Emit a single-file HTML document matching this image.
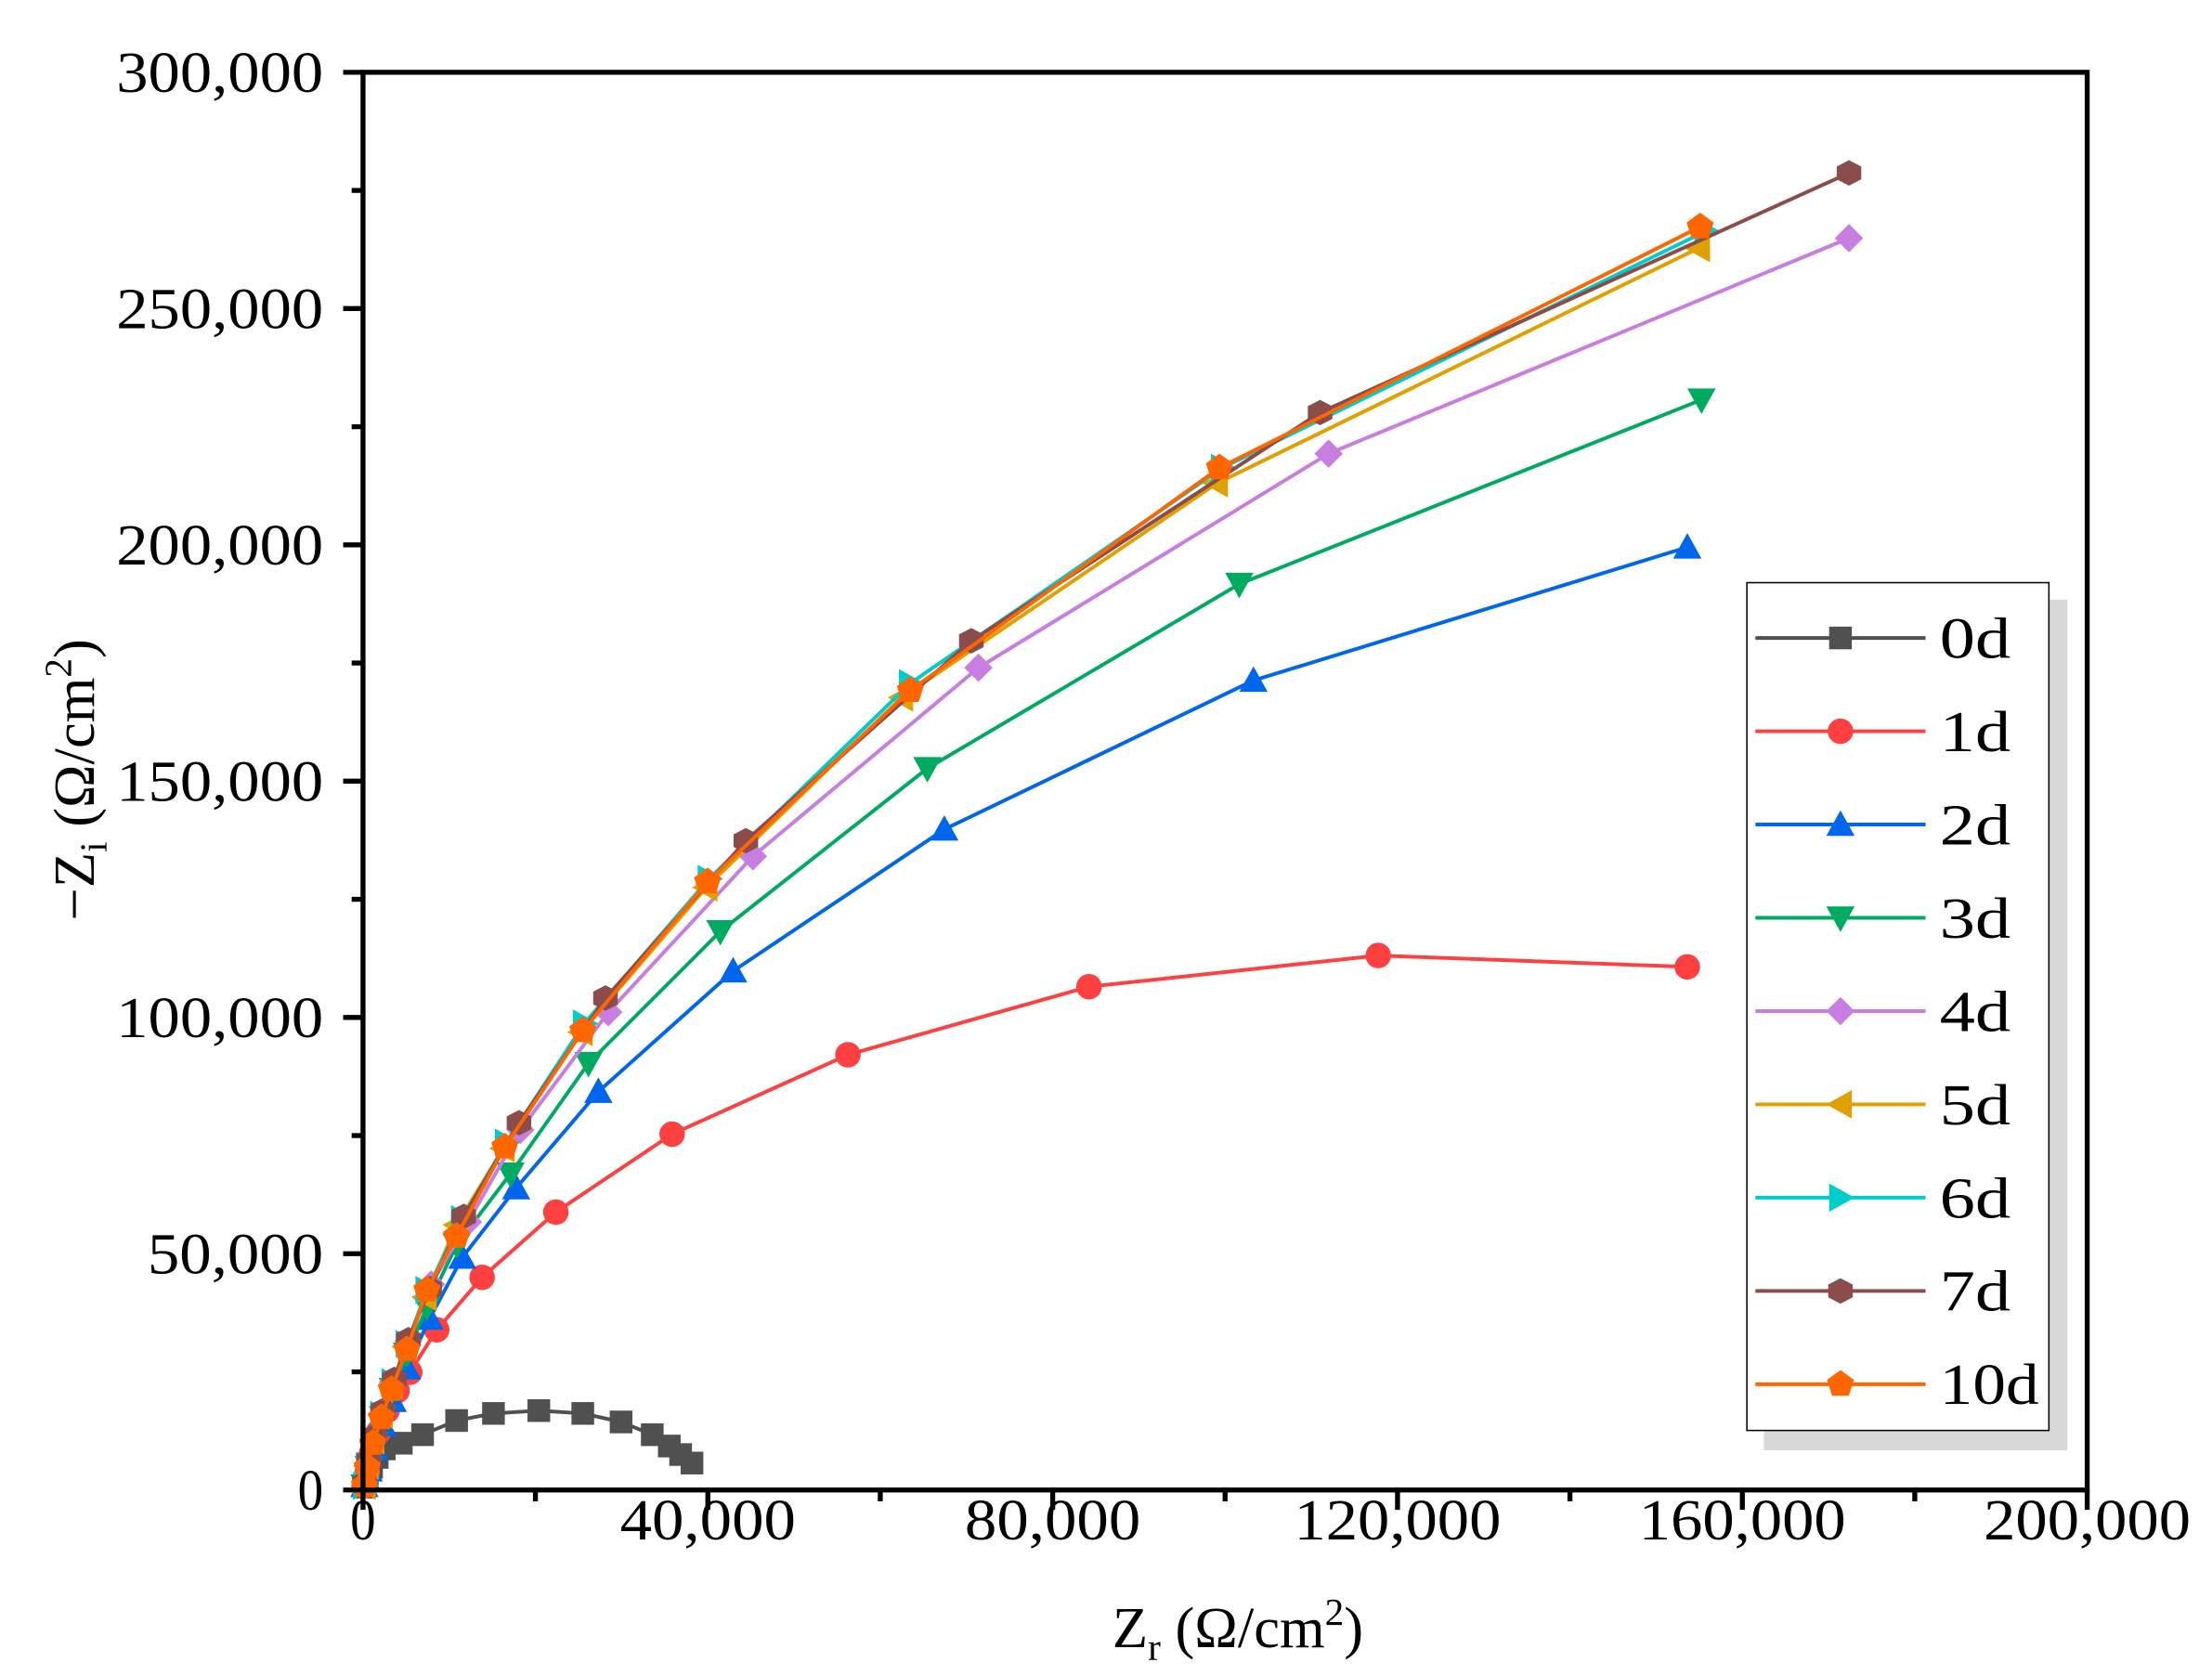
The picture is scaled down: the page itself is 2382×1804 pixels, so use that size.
<!DOCTYPE html>
<html><head><meta charset="utf-8"><style>
html,body{margin:0;padding:0;background:#fff;}
svg{display:block;}
text{font-family:"Liberation Serif",serif;fill:#000;}
</style></head><body>
<svg id="s" width="2382" height="1804" viewBox="0 0 1560 1181.5" xmlns="http://www.w3.org/2000/svg">
<rect width="1560" height="1182" fill="#fff"/>
<g id="plot"></g>
<rect x="256" y="51" width="1216" height="1000" fill="none" stroke="#000" stroke-width="3.5"/>
<g stroke="#000" stroke-width="3.5" id="ticks"></g>
<g font-size="41" text-anchor="end" id="ylab"></g>
<g font-size="41" text-anchor="middle" id="xlab"></g>
<text x="873" y="1162" font-size="41" text-anchor="middle">Z<tspan font-size="27" dy="9">r</tspan><tspan dy="-9"> (Ω/cm</tspan><tspan font-size="27" dy="-16">2</tspan><tspan dy="16">)</tspan></text>
<text transform="translate(66,550) rotate(-90)" font-size="41" text-anchor="middle">−Z<tspan font-size="27" dy="9">i</tspan><tspan dy="-9"> (Ω/cm</tspan><tspan font-size="27" dy="-16">2</tspan><tspan dy="16">)</tspan></text>
<rect x="1244" y="423" width="214" height="600" fill="#d8d8d8"/>
<rect x="1232" y="411" width="213" height="598" fill="#fff" stroke="#000" stroke-width="1"/>
<g id="leg"></g>
</svg>
<script>
const NS="http://www.w3.org/2000/svg";
function el(t,a,p){const e=document.createElementNS(NS,t);for(const k in a)e.setAttribute(k,a[k]);p.appendChild(e);return e;}
const ticks=document.getElementById('ticks'),yl=document.getElementById('ylab'),xl=document.getElementById('xlab');
const ylabels=["0","50,000","100,000","150,000","200,000","250,000","300,000"];
const yw=[18,124,146,146,146,146,146];
for(let i=0;i<=12;i++){const y=1051-i*1000/12;const maj=i%2==0;el('line',{x1:256,x2:maj?242:248,y1:y,y2:y},ticks);
 if(maj){const t=el('text',{x:228,y:y+14,textLength:yw[i/2],lengthAdjust:'spacingAndGlyphs'},yl);t.textContent=ylabels[i/2];}}
const xlabels=["0","40,000","80,000","120,000","160,000","200,000"];
const xw=[18,124,124,146,146,146];
for(let i=0;i<=10;i++){const x=256+i*121.6;const maj=i%2==0;el('line',{x1:x,x2:x,y1:1051,y2:maj?1065:1059},ticks);
 if(maj){const t=el('text',{x:x,y:1086,textLength:xw[i/2],lengthAdjust:'spacingAndGlyphs'},xl);t.textContent=xlabels[i/2];}}
function marker(type,x,y,c,g){const r=9;
 if(type=='sq')el('rect',{x:x-8,y:y-8,width:16,height:16,fill:c},g);
 else if(type=='ci')el('circle',{cx:x,cy:y,r:r,fill:c},g);
 else{let pts;
  if(type=='up')pts=[[0,-10],[10,8],[-10,8]];
  else if(type=='dn')pts=[[0,10],[10,-8],[-10,-8]];
  else if(type=='lt')pts=[[-10,0],[8,-10],[8,10]];
  else if(type=='rt')pts=[[10,0],[-8,-10],[-8,10]];
  else if(type=='di')pts=[[0,-10],[10,0],[0,10],[-10,0]];
  else if(type=='hx'){pts=[];for(let k=0;k<6;k++){const a=Math.PI/6+k*Math.PI/3;pts.push([10*Math.cos(a),9*Math.sin(a)]);}}
  else if(type=='pe'){pts=[];for(let k=0;k<5;k++){const a=-Math.PI/2+k*2*Math.PI/5;pts.push([10*Math.cos(a),10*Math.sin(a)]);}}
  el('polygon',{points:pts.map(p=>(x+p[0])+','+(y+p[1])).join(' '),fill:c},g);}}
const S=[
['0d','#505050','sq',[[257,1049],[259,1042],[262,1035],[266,1028],[271,1022],[283,1018],[298,1012],[322,1002],[348,997],[380,995],[411,997],[438,1003],[460,1012],[472,1020],[480,1026],[488,1032]]],
['1d','#ff4040','ci',[[257,1048],[259,1038],[262,1025],[267,1010],[273,995],[280,981],[289,968],[308,938],[340,901],[392,855],[474,800],[598,744],[768,696],[972,674],[1190,682]]],
['2d','#0066ee','up',[[257,1048],[260,1037],[264,1022],[270,1005],[277,988],[287,965],[303,930],[326,887],[364,838],[422,770],[517,685],[666,585],[884,480],[1190,386]]],
['3d','#00aa60','dn',[[257,1048],[260,1035],[264,1018],[270,1000],[277,980],[287,955],[301,922],[322,878],[360,828],[415,750],[508,657],[654,542],[874,412],[1200,282]]],
['4d','#c87de0','di',[[257,1048],[259,1034],[263,1017],[269,998],[277,975],[288,946],[304,906],[330,862],[367,797],[429,714],[531,604],[690,471],[937,320],[1304,168]]],
['5d','#e0a000','lt',[[257,1048],[259,1034],[263,1016],[269,998],[276,977],[286,950],[300,915],[322,864],[355,810],[410,728],[498,626],[636,492],[858,341],[1198,175]]],
['6d','#00cccc','rt',[[257,1048],[259,1034],[263,1016],[269,998],[277,975],[287,948],[301,910],[326,860],[357,806],[412,722],[500,620],[642,482],[862,330],[1203,163]]],
['7d','#8b4c4c','hx',[[257,1046],[260,1030],[264,1013],[270,995],[278,973],[288,945],[303,909],[327,858],[366,792],[427,704],[526,593],[685,452],[931,291],[1304,122]]],
['10d','#ff6600','pe',[[257,1048],[259,1035],[263,1018],[269,1000],[276,980],[287,952],[301,910],[322,872],[356,809],[411,727],[499,622],[642,487],[860,330],[1199,160]]]];
const plot=document.getElementById('plot'),leg=document.getElementById('leg');
S.forEach((d,i)=>{const g=el('g',{},plot);
 el('polyline',{points:d[3].map(p=>p.join(',')).join(' '),fill:'none',stroke:d[1],'stroke-width':2.6},g);
 d[3].forEach(p=>marker(d[2],p[0],p[1],d[1],g));
 const y=450+i*65.8;
 el('line',{x1:1238,x2:1358,y1:y,y2:y,stroke:d[1],'stroke-width':2.6},leg);
 marker(d[2],1298,y,d[1],leg);
 const t=el('text',{x:1368,y:y+14,'font-size':41,textLength:d[0].length==2?50:70,lengthAdjust:'spacingAndGlyphs'},leg);t.textContent=d[0];});
</script>
</body></html>
